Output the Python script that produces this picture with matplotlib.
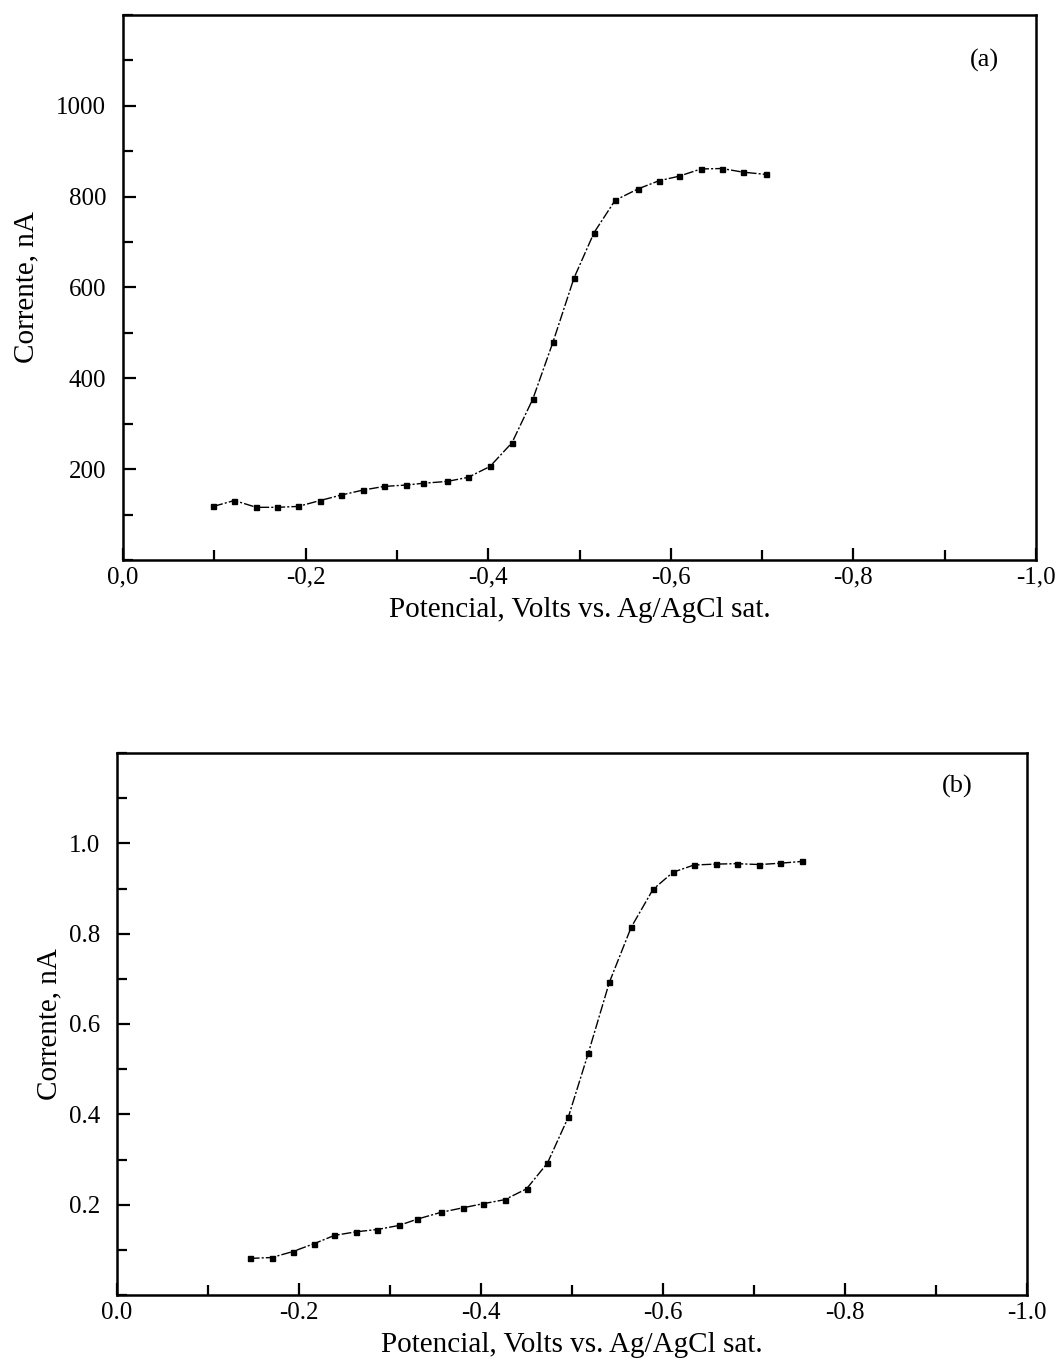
import matplotlib
matplotlib.use("Agg")
import matplotlib.pyplot as plt
from matplotlib.ticker import FixedLocator, MultipleLocator

plt.rcParams['font.family'] = ['Liberation Serif', 'DejaVu Serif']

# Panel (a): potential (V) and current (nA)
pot_a = [-0.099, -0.122, -0.146, -0.169, -0.192, -0.216, -0.239, -0.263, -0.286,
         -0.310, -0.329, -0.355, -0.378, -0.402, -0.426, -0.449, -0.471, -0.494,
         -0.516, -0.539, -0.564, -0.587, -0.609, -0.633, -0.656, -0.679, -0.704]
cur_a = [118, 131, 116, 116, 118, 131, 143, 154, 162, 165, 169, 173, 182, 206,
         258, 355, 480, 621, 721, 792, 817, 835, 845, 861, 862, 854, 849]

# Panel (b): potential (V) and current (nA)
pot_b = [-0.146, -0.170, -0.193, -0.217, -0.239, -0.263, -0.286, -0.310, -0.330,
         -0.356, -0.380, -0.402, -0.426, -0.450, -0.473, -0.496, -0.518, -0.541,
         -0.565, -0.589, -0.611, -0.634, -0.658, -0.681, -0.706, -0.729, -0.753]
cur_b = [0.081, 0.083, 0.096, 0.114, 0.132, 0.140, 0.145, 0.154, 0.168, 0.183,
         0.193, 0.202, 0.211, 0.235, 0.292, 0.394, 0.536, 0.692, 0.814, 0.898,
         0.936, 0.952, 0.954, 0.955, 0.953, 0.956, 0.960]

xticks = [0.0, -0.2, -0.4, -0.6, -0.8, -1.0]
xlabels_a = ["0,0", "-0,2", "-0,4", "-0,6", "-0,8", "-1,0"]
xlabels_b = ["0.0", "-0.2", "-0.4", "-0.6", "-0.8", "-1.0"]
yticks_a = [200, 400, 600, 800, 1000]
ylabels_a = ["200", "400", "600", "800", "1000"]
yticks_b = [0.2, 0.4, 0.6, 0.8, 1.0]
ylabels_b = ["0.2", "0.4", "0.6", "0.8", "1.0"]

xlabel_text = "Potencial, Volts vs. Ag/AgCl sat."
ylabel_text = "Corrente, nA"

fig = plt.figure(figsize=(10.61, 13.71), dpi=100)
ax_a = fig.add_axes([123/1061, 1-560/1371, (1036-123)/1061, (560-15)/1371])
ax_b = fig.add_axes([117/1061, 1-1295/1371, (1027-117)/1061, (1295-753)/1371])

def style(ax, x, y, xl, yt, yl, ymax, yminor, tag, tagpos, ypad, ylpad):
    ax.plot(x, y, color='black', lw=1.0, linestyle=(0, (7, 1.5, 1.5, 1.5)),
            marker='s', ms=3.6, mfc='black', mec='black')
    ax.set_xlim(0.0, -1.0)
    ax.set_ylim(0, ymax)
    ax.xaxis.set_major_locator(FixedLocator(xticks))
    ax.set_xticklabels(xl)
    ax.xaxis.set_minor_locator(FixedLocator([-0.1, -0.3, -0.5, -0.7, -0.9]))
    ax.yaxis.set_major_locator(FixedLocator(yt))
    ax.set_yticklabels(yl)
    ax.yaxis.set_minor_locator(MultipleLocator(yminor))
    ax.tick_params(which='both', direction='in', top=False, right=False,
                   labelsize=18, width=1.6)
    ax.tick_params(axis='x', pad=5)
    ax.tick_params(axis='y', pad=ypad)
    ax.tick_params(which='major', length=9)
    ax.tick_params(which='minor', length=7)
    for s in ax.spines.values():
        s.set_linewidth(1.8)
    ax.set_xlabel(xlabel_text, fontsize=21, labelpad=6)
    ax.set_ylabel(ylabel_text, fontsize=21, labelpad=ylpad)
    ax.text(tagpos[0], tagpos[1], tag, transform=ax.transAxes, fontsize=19,
            ha='center', va='center')

style(ax_a, pot_a, cur_a, xlabels_a, yticks_a, ylabels_a, 1200, 100, "(a)",
      (0.944, 0.917), 12, 12)
style(ax_b, pot_b, cur_b, xlabels_b, yticks_b, ylabels_b, 1.2, 0.1, "(b)",
      (0.923, 0.938), 12, 5)

fig.savefig("out.png", dpi=100)
